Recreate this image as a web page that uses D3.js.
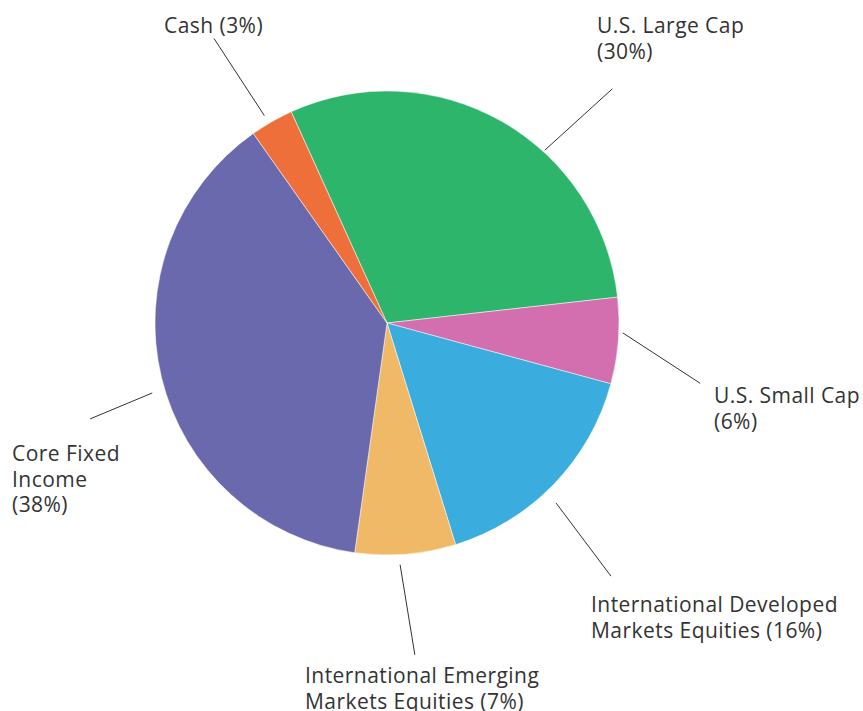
<!DOCTYPE html>
<html><head><meta charset="utf-8">
<script src="https://cdn.jsdelivr.net/npm/d3@7"></script>
<style>html,body{margin:0;padding:0;background:#fff;}</style>
</head><body>
<svg id="chart" width="863" height="711"></svg>
<script>
// Data
const categories = ["U.S. Large Cap", "U.S. Small Cap", "International Developed Markets Equities", "International Emerging Markets Equities", "Core Fixed Income", "Cash"];
const values = [30, 6, 16, 7, 38, 3];
const colors = ["#2db56c", "#d36fae", "#3aacde", "#efb968", "#6a69ae", "#ef6f3a"];
const labelLines = [["U.S. Large Cap", "(30%)"], ["U.S. Small Cap", "(6%)"], ["International Developed", "Markets Equities (16%)"], ["International Emerging", "Markets Equities (7%)"], ["Core Fixed", "Income", "(38%)"], ["Cash (3%)"]];

// Layout (leader lines in polar coords: angle deg, inner r, outer r; label anchor)
const layout = [
  {a1: 42.4, r1: 234, a2: 43.9, r2: 325, x: 597, y: 33},
  {a1: 92.4, r1: 236, a2: 100.9, r2: 319, x: 714, y: 403},
  {a1: 136.8, r1: 247, a2: 138.5, r2: 338, x: 591, y: 612},
  {a1: 176.9, r1: 242, a2: 175.2, r2: 333, x: 305, y: 683},
  {a1: 253.4, r1: 245, a2: 252.1, r2: 312, x: 12, y: 461},
  {a1: -30.6, r1: 241, a2: -31.3, r2: 333, x: 164, y: 33}
];

const cx = 387, cy = 323, R = 232;
const svg = d3.select("#chart");
const g = svg.append("g").attr("transform", `translate(${cx},${cy})`);

const startA = -24.4 * Math.PI / 180;
const pie = d3.pie().value(d => d).sort(null).startAngle(startA).endAngle(startA + 2 * Math.PI);
const arc = d3.arc().innerRadius(0).outerRadius(R);
const arcs = pie(values);

g.selectAll("path.slice").data(arcs).join("path")
  .attr("class", "slice")
  .attr("d", arc)
  .attr("fill", (d, i) => colors[i])
  .attr("stroke", "#fff").attr("stroke-width", 0.5);

const pol = (a, r) => [r * Math.sin(a * Math.PI / 180), -r * Math.cos(a * Math.PI / 180)];

g.selectAll("line.leader").data(layout).join("line")
  .attr("class", "leader")
  .attr("x1", d => pol(d.a1, d.r1)[0]).attr("y1", d => pol(d.a1, d.r1)[1])
  .attr("x2", d => pol(d.a2, d.r2)[0]).attr("y2", d => pol(d.a2, d.r2)[1])
  .attr("stroke", "#333").attr("stroke-width", 1);

const lbl = svg.selectAll("text.lbl").data(layout).join("text")
  .attr("class", "lbl")
  .attr("x", d => d.x).attr("y", d => d.y)
  .attr("font-family", "'Open Sans', sans-serif")
  .attr("font-size", 21)
  .attr("letter-spacing", 0.45)
  .attr("fill", "#333");
lbl.each(function(d, i) {
  d3.select(this).selectAll("tspan").data(labelLines[i]).join("tspan")
    .attr("x", d.x).attr("dy", (t, j) => j === 0 ? 0 : 25.5)
    .text(t => t);
});
</script>
</body></html>
